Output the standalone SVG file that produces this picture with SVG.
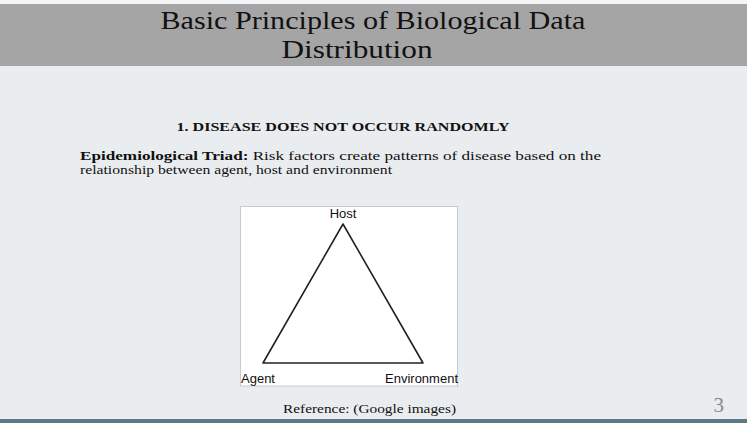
<svg xmlns="http://www.w3.org/2000/svg" width="747" height="423" viewBox="0 0 747 423">
<style>
.serif{font-family:"Liberation Serif","DejaVu Serif",serif;fill:#111}
.sans{font-family:"Liberation Sans","DejaVu Sans",sans-serif;fill:#111}
</style>
<rect x="0" y="0" width="747" height="423" fill="#e9edf0"/>
<rect x="0" y="0" width="747" height="4" fill="#f4f5f6"/>
<rect x="0" y="4" width="747" height="62" fill="#a5a5a5"/>
<rect x="0" y="419" width="747" height="4" fill="#5f7886"/>
<g id="title">
<text class="serif" x="373" y="29" font-size="24.5" text-anchor="middle" textLength="425" lengthAdjust="spacingAndGlyphs">Basic Principles of Biological Data</text>
<text class="serif" x="357" y="57.5" font-size="24.5" text-anchor="middle" textLength="151" lengthAdjust="spacingAndGlyphs">Distribution</text>
</g>
<g id="heading">
<text class="serif" x="343" y="131" font-size="12.5" font-weight="bold" text-anchor="middle" textLength="333" lengthAdjust="spacingAndGlyphs">1. DISEASE DOES NOT OCCUR RANDOMLY</text>
</g>
<g id="paragraph">
<text class="serif" x="80" y="160" font-size="12.5" textLength="521" lengthAdjust="spacingAndGlyphs"><tspan font-weight="bold">Epidemiological Triad:</tspan> Risk factors create patterns of disease based on the</text>
<text class="serif" x="80" y="174" font-size="12.5" textLength="312" lengthAdjust="spacingAndGlyphs">relationship between agent, host and environment</text>
</g>
<g id="figure">
<rect x="240.5" y="206.5" width="217" height="179.5" fill="#ffffff" stroke="#c8cbce" stroke-width="1"/>
<polygon points="343,224 263,363 423,363" fill="none" stroke="#222" stroke-width="1.6" stroke-linejoin="round"/>
</g>
<g id="host"><text class="sans" x="343" y="218" font-size="13" text-anchor="middle">Host</text></g>
<g id="agent"><text class="sans" x="241" y="383" font-size="13">Agent</text></g>
<g id="environment"><text class="sans" x="458" y="383" font-size="13" text-anchor="end">Environment</text></g>
<g id="connectors"></g>
<g id="reference"><text class="serif" x="283" y="413" font-size="11.5" textLength="173" lengthAdjust="spacingAndGlyphs">Reference: (Google images)</text></g>
<g id="pagenum"><text class="serif" x="724" y="412" font-size="21" text-anchor="end" style="fill:#8a8a8a">3</text></g>
</svg>
